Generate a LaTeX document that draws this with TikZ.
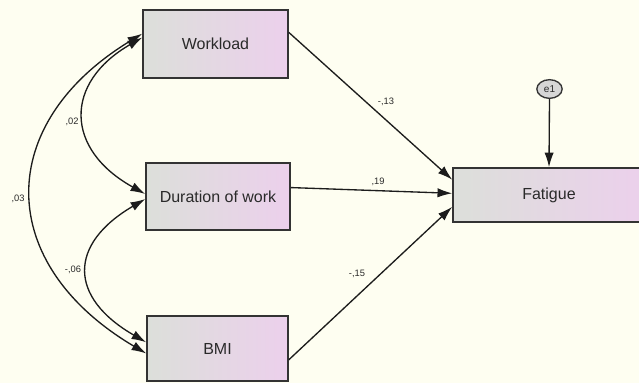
\documentclass[tikz,border=0pt]{standalone}
\usepackage{fontspec}
\setmainfont{Liberation Sans}
\usepackage{xcolor}
\usepackage{tikz}
\usetikzlibrary{arrows.meta,shapes.geometric}
\definecolor{paper}{HTML}{FEFEF1}
\definecolor{border}{HTML}{333333}
\definecolor{wire}{HTML}{1C1C1C}
\definecolor{ink}{HTML}{2A2A2A}
\definecolor{boxleft}{HTML}{DCDFDA}
\definecolor{boxright}{HTML}{ECD0EC}
\definecolor{errfill}{HTML}{D6D6D6}

\begin{document}
\begin{tikzpicture}[x=0.75pt, y=-0.75pt,
  var/.style={draw=border, line width=1.2pt, left color=boxleft, right color=boxright,
    text=ink, font=\fontsize{12}{14}\selectfont, inner sep=0pt},
  err/.style={ellipse, draw=border, line width=1pt, fill=errfill, text=ink,
    font=\fontsize{7.5}{8}\selectfont, minimum width=19pt, minimum height=14pt, inner sep=0pt},
  path/.style={-{Latex[length=11pt,width=7pt]}, line width=1pt, color=wire},
  cov/.style={{Latex[length=11pt,width=7pt]}-{Latex[length=11pt,width=7pt]}, line width=1pt, color=wire},
  coef/.style={text=ink, font=\fontsize{7}{8}\selectfont, inner sep=0pt}]
  \fill[paper] (0,0) rectangle (639,383);
  \useasboundingbox (0,0) rectangle (639,383);
  % observed variables
  \node[var, minimum width=108.75pt, minimum height=51pt] (wl) at (215.5,44) {Workload};
  \node[var, minimum width=108pt, minimum height=50.25pt] (dur) at (218,196.5) {Duration of work};
  \node[var, minimum width=105.75pt, minimum height=48.75pt] (bmi) at (217.5,348.5) {BMI};
  \node[var, minimum width=144pt, minimum height=40.5pt] (fat) at (549,195) {Fatigue};
  \node[err] (e1) at (549.5,89) {e1};
  % regression paths
  \draw[path] (wl.9) -- (fat.171);
  \draw[path] (dur.7) -- (fat.179);
  \draw[path] (bmi.-9) -- (fat.187);
  \draw[path] (e1.south) -- (fat.north);
  % covariances
  \draw[cov] (wl.175) .. controls +(-78,45) and +(-81,-45) .. (dur.178);
  \draw[cov] (dur.182) .. controls +(-77,45) and +(-78,-45) .. (bmi.175);
  \draw[cov] (wl.172) .. controls +(-148,90) and +(-152,-90) .. (bmi.184);
  % estimates
  \node[coef] at (386,102) {-,13};
  \node[coef] at (378,182) {,19};
  \node[coef] at (357,274) {-,15};
  \node[coef] at (72,122) {,02};
  \node[coef] at (18,199) {,03};
  \node[coef] at (73,270) {-,06};
\end{tikzpicture}
\end{document}
